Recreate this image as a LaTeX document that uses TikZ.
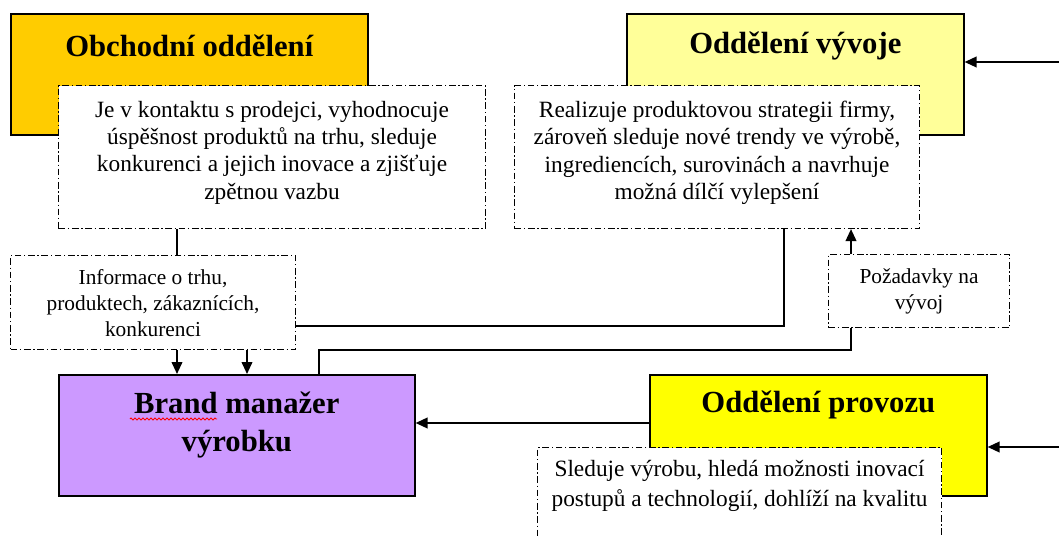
\documentclass[tikz,border=0pt]{standalone}
\usepackage{fontspec}
\setmainfont{Liberation Serif}[BoldFont={Liberation Serif Bold}]
\newfontfamily\tnr{Liberation Serif}
\usetikzlibrary{calc,arrows.meta,decorations.pathmorphing}
\definecolor{obchodcol}{RGB}{255,204,0}
\definecolor{vyvojcol}{RGB}{255,255,153}
\definecolor{brandcol}{RGB}{204,153,255}
\definecolor{provozcol}{RGB}{255,255,0}

\begin{document}
\begin{tikzpicture}[x=.75pt,y=-.75pt,
  >={Triangle[length=9pt,width=8pt]},
  dept/.style={draw,line width=1.2pt,anchor=north west,inner sep=0pt,minimum height=90.75pt},
  note/.style={draw,fill=white,line width=.8pt,dash pattern=on 5pt off 2pt on 1pt off 2pt,anchor=north west,inner sep=0pt},
  title/.style={font=\tnr\fontsize{23}{29}\selectfont\bfseries,align=center,inner sep=0pt},
  body/.style={font=\tnr\fontsize{17.5}{20.4}\selectfont,align=center,inner sep=0pt,anchor=north},
  small/.style={font=\tnr\fontsize{16}{19.5}\selectfont,align=center,inner sep=0pt,anchor=north},
  link/.style={line width=1.3pt}]
\clip (0,0) rectangle (1059,538);

% oddeleni
\node[dept,fill=obchodcol,minimum width=267.75pt] (obchod) at (10,13) {};
\node[title] (obchodT) at ($(obchod.north)+(0,33)$) {Obchodní oddělení};
\node[dept,fill=vyvojcol,minimum width=252.75pt] (vyvoj) at (626,13) {};
\node[title] (vyvojT) at ($(vyvoj.north)+(0,33)$) {Oddělení vývoje};
\node[dept,fill=brandcol,minimum width=267pt] (brand) at (58,374) {};
\node[title] (brandT) at ($(brand.north)+(0,51)$) {Brand manažer\\výrobku};
\draw[red,line width=.6pt,decorate,decoration={zigzag,segment length=3pt,amplitude=.8pt}]
  (130,419) -- (217,419);
\node[dept,fill=provozcol,minimum width=252.75pt] (provoz) at (649,374) {};
\node[title] (provozT) at ($(provoz.north)+(0,31)$) {Oddělení provozu};

% popisy
\node[note,minimum width=320.25pt,minimum height=107.25pt] (obchodD) at (58,85) {};
\node[body] (obchodDT) at ($(obchodD.north)+(0,16)$)
  {Je v kontaktu s prodejci, vyhodnocuje\\úspěšnost produktů na trhu, sleduje\\konkurenci a jejich inovace a zjišťuje\\zpětnou vazbu};
\node[note,minimum width=303.75pt,minimum height=107.25pt] (vyvojD) at (514,85) {};
\node[body] (vyvojDT) at ($(vyvojD.north)+(0,16)$)
  {Realizuje produktovou strategii firmy,\\zároveň sleduje nové trendy ve výrobě,\\ingrediencích, surovinách a navrhuje\\možná dílčí vylepšení};
\node[note,minimum width=303pt,minimum height=112.5pt] (provozD) at (537,447) {};
\node[body,font=\tnr\fontsize{17.5}{22.5}\selectfont] (provozDT) at ($(provozD.north)+(0,13)$)
  {Sleduje výrobu, hledá možnosti inovací\\postupů a technologií, dohlíží na kvalitu};

% toky informaci
\node[note,minimum width=213.75pt,minimum height=70.5pt] (info) at (10,255) {};
\node[small] (infoT) at ($(info.north)+(0,14)$)
  {Informace o trhu,\\produktech, zákaznících,\\konkurenci};
\node[note,minimum width=135.75pt,minimum height=54.75pt] (pozad) at (828,254) {};
\node[small] (pozadT) at ($(pozad.north)+(0,14)$) {Požadavky na\\vývoj};

\coordinate (x1) at (177,0);
\coordinate (x2) at (247,0);
\coordinate (x3) at (784,326);
\coordinate (x4) at (319,350);
\coordinate (x5) at (851,0);
\coordinate (y6) at (0,423);
\coordinate (inV) at (1059,62);
\coordinate (inP) at (1059,447);

\draw[link] (obchodD.south -| x1) -- (info.north -| x1);
\draw[link,->] (info.south -| x1) -- (brand.north -| x1);
\draw[link,->] (info.south -| x2) -- (brand.north -| x2);
\draw[link] (info.east |- x3) -| (vyvojD.south -| x3);
\draw[link] (brand.north -| x4) |- (x4 -| x5) -- (pozad.south -| x5);
\draw[link,->] (pozad.north -| x5) -- (vyvojD.south -| x5);
\draw[link,->] (provoz.west |- y6) -- (brand.east |- y6);
\draw[link,->] (inV) -- (vyvoj.east |- inV);
\draw[link,->] (inP) -- (provoz.east |- inP);
\end{tikzpicture}
\end{document}
